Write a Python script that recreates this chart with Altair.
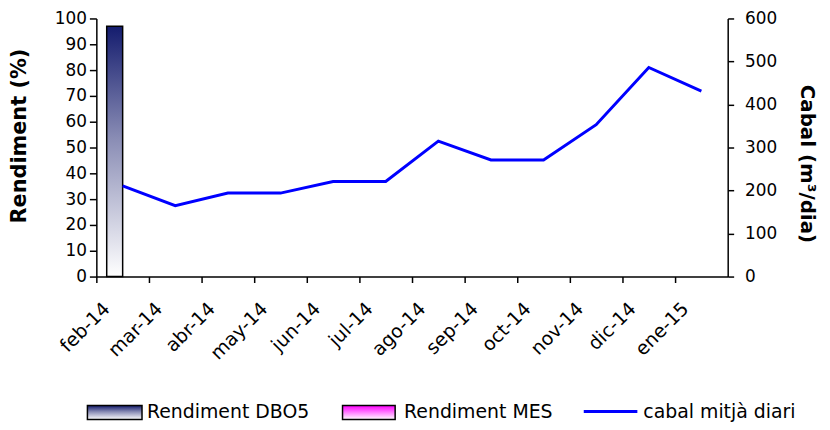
import altair as alt
import pandas as pd

months = ["feb-14", "mar-14", "abr-14", "may-14", "jun-14", "jul-14",
          "ago-14", "sep-14", "oct-14", "nov-14", "dic-14", "ene-15"]
cabal = [211, 165, 194, 194, 221, 221, 315, 271, 271, 353, 486, 431]
dbo5_months = ["feb-14"]
dbo5_values = [97]
series = ["Rendiment DBO5", "Rendiment MES"]
legend_labels = ["Rendiment DBO5", "Rendiment MES", "cabal mitjà diari"]

FONT = "DejaVu Sans"
LBL = 17

df_line = pd.DataFrame({"mes": months, "cabal": cabal})
df_bar = pd.DataFrame({"mes": dbo5_months, "rend": dbo5_values,
                       "serie": [series[0]] * len(dbo5_values)})

xscale = alt.Scale(domain=months, paddingInner=0, paddingOuter=0)


def xaxis():
    return alt.Axis(title=None, bandPosition=0, labelAngle=-45, labelAlign="right",
                    labelBaseline="middle", labelFontSize=19, labelFont=FONT,
                    labelColor="black", tickColor="black", domainColor="black",
                    tickSize=6, labelPadding=23, labelOffset=-16, grid=False,
                    domainWidth=1.5, tickWidth=1.5)


grad_dbo5 = alt.LinearGradient(
    gradient="linear",
    stops=[alt.GradientStop(color="#141c6e", offset=0),
           alt.GradientStop(color="#8a8db5", offset=0.45),
           alt.GradientStop(color="#ffffff", offset=1)],
    x1=0, x2=0, y1=0, y2=1)
grad_mes = alt.LinearGradient(
    gradient="linear",
    stops=[alt.GradientStop(color="#ff00ff", offset=0),
           alt.GradientStop(color="#ffffff", offset=1)],
    x1=0, x2=0, y1=0, y2=1)

bars = alt.Chart(df_bar).mark_bar(color=grad_dbo5, stroke="black", strokeWidth=1.5).encode(
    x=alt.X("mes:N", scale=xscale, axis=xaxis(), sort=months),
    xOffset=alt.XOffset("serie:N", scale=alt.Scale(domain=series, paddingInner=0, paddingOuter=0.65)),
    y=alt.Y("rend:Q", scale=alt.Scale(domain=[0, 100]),
            axis=alt.Axis(title="Rendiment (%)", values=list(range(0, 101, 10)),
                          labelFontSize=LBL, labelFont=FONT, labelColor="black",
                          tickColor="black", domainColor="black", tickSize=7,
                          labelPadding=3, grid=False, domainWidth=1.5, tickWidth=1.5,
                          titleFont=FONT, titleFontSize=21, titleFontWeight="bold",
                          titleColor="black", titleAngle=-90, titleX=-77, titleY=118,
                          titleAlign="center", titleBaseline="middle")),
)

line = alt.Chart(df_line).mark_line(color="#0000ff", strokeWidth=3).encode(
    x=alt.X("mes:N", scale=xscale, axis=xaxis(), sort=months),
    y=alt.Y("cabal:Q", scale=alt.Scale(domain=[0, 600]),
            axis=alt.Axis(title="Cabal (m³/dia)", orient="right", values=list(range(0, 601, 100)),
                          labelFontSize=LBL, labelFont=FONT, labelColor="black",
                          tickColor="black", domainColor="black", tickSize=6,
                          labelPadding=11, grid=False, domainWidth=1.5, tickWidth=1.5,
                          titleFont=FONT, titleFontSize=20, titleFontWeight="bold",
                          titleColor="black", titleAngle=90, titleX=79, titleY=146,
                          titleAlign="center", titleBaseline="middle")),
)

# legend (drawn as marks below the plot)
leg_y0, leg_y1, leg_ty = 390, 404, 396
leg = []
sw = [(-9, 46, grad_dbo5, 51), (248, 301, grad_mes, 310)]
for i, (a, b, g, tx) in enumerate(sw):
    d = pd.DataFrame({"label": [legend_labels[i]]})
    leg.append(alt.Chart(d).mark_rect(color=g, stroke="black", strokeWidth=1.5).encode(
        x=alt.value(a), x2=alt.value(b), y=alt.value(leg_y0), y2=alt.value(leg_y1)))
    leg.append(alt.Chart(d).mark_text(align="left", baseline="middle", fontSize=19,
                                      font=FONT, color="black").encode(
        x=alt.value(tx), y=alt.value(leg_ty), text="label:N"))
d3 = pd.DataFrame({"label": [legend_labels[2]]})
leg.append(alt.Chart(d3).mark_rule(color="#0000ff", strokeWidth=3).encode(
    x=alt.value(491), x2=alt.value(545), y=alt.value(leg_ty)))
leg.append(alt.Chart(d3).mark_text(align="left", baseline="middle", fontSize=19,
                                   font=FONT, color="black").encode(
    x=alt.value(551), y=alt.value(leg_ty), text="label:N"))

chart = alt.layer(bars, line, *leg).resolve_scale(y="independent").properties(
    width=636, height=260,
    autosize=alt.AutoSizeParams(type="none"),
    padding={"left": 89, "top": 9, "right": 95, "bottom": 150},
    background="white",
).configure_view(stroke=None)

chart.save("out.html", embed_options={"renderer": "svg", "actions": False})
